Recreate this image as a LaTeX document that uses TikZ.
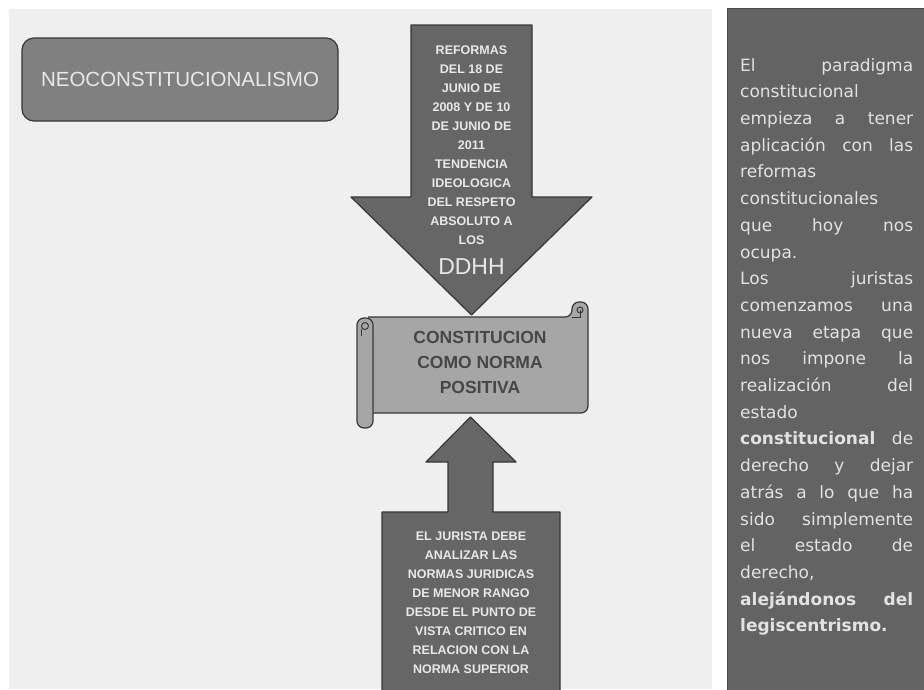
\documentclass[tikz,border=0pt]{standalone}
\usepackage{fontspec}
\setmainfont{Liberation Sans}
\newfontfamily\dejavu{DejaVu Sans}
\definecolor{bglight}{RGB}{239,239,239}
\definecolor{panel}{RGB}{99,99,99}
\definecolor{neofill}{RGB}{128,128,128}
\definecolor{shapefill}{RGB}{102,102,102}
\definecolor{scrollfill}{RGB}{166,166,166}
\definecolor{edge}{RGB}{55,55,55}
\definecolor{lighttext}{RGB}{232,232,232}
\definecolor{paneltext}{RGB}{226,226,226}
\tikzset{
  shapebox/.style={fill=shapefill,draw=edge,line width=1.2pt,line join=round},
  scrollbox/.style={fill=scrollfill,draw=edge,line width=1.2pt,rounded corners=7pt},
  arrowtext/.style={inner sep=0pt,align=center,text=lighttext,font=\bfseries\fontsize{12.5}{19}\selectfont},
}
\newcommand{\jline}[1]{\makebox[173pt][s]{#1}}

\begin{document}
\begin{tikzpicture}[x=1pt,y=-1pt]
    \useasboundingbox (0,0) rectangle (924,689);
    \clip (0,0) rectangle (924,689);
    \fill[white] (0,0) rectangle (924,689);
    \fill[bglight] (9,9) rectangle (712,689);
    \filldraw[fill=panel,draw=black!70] (727,8) rectangle (930,695);
    % title box
    \node[fill=neofill,draw=edge,line width=1.2pt,rounded corners=12pt,
          minimum width=316pt,minimum height=83pt,text=lighttext,
          font=\fontsize{20.5}{24}\selectfont] (neo) at (180,79.5) {NEOCONSTITUCIONALISMO};
    % arrow from the reforms down to the constitution
    \draw[shapebox] (411,25) -- (532,25) -- (532,197) -- (592,197) -- (471.5,315)
        -- (351,197) -- (411,197) -- cycle;
    \node[arrowtext,anchor=north] (reformas) at (471.5,45.5)
        {REFORMAS\\DEL 18 DE\\JUNIO DE\\2008 Y DE 10\\DE JUNIO DE\\2011\\TENDENCIA\\IDEOLOGICA\\DEL RESPETO\\ABSOLUTO A\\LOS};
    \node[inner sep=0pt,text=lighttext,font=\fontsize{23}{26}\selectfont,anchor=north] (ddhh) at (471.5,258.5) {DDHH};
    % scroll
    \draw[scrollbox] (368,317) -- (572,317) -- (572,302) -- (588,302) -- (588,413) -- (368,413);
    \draw[edge,line width=1pt] (572,317) -- (580,317) -- (580,310);
    \draw[edge,line width=1pt] (580,310) circle (3pt);
    \draw[scrollbox] (357,318) rectangle (373,428);
    \draw[edge,line width=1pt] (365,326) circle (3.5pt);
    \draw[edge,line width=1pt] (361,329) -- (361,336);
    \node[inner sep=0pt,align=center,text=black!72,anchor=north,
          font=\bfseries\fontsize{17.5}{25}\selectfont] (constitucion) at (480,331.5)
        {CONSTITUCION\\COMO NORMA\\POSITIVA};
    % callout pointing up to the scroll
    \draw[shapebox] (382,512) -- (448,512) -- (448,462) -- (426,462) -- (470.5,417)
        -- (516,462) -- (493,462) -- (493,512) -- (560,512) -- (560,700) -- (382,700) -- cycle;
    \node[arrowtext,anchor=north] (jurista) at (471,531.5)
        {EL JURISTA DEBE\\ANALIZAR LAS\\NORMAS JURIDICAS\\DE MENOR RANGO\\DESDE EL PUNTO DE\\VISTA CRITICO EN\\RELACION CON LA\\NORMA SUPERIOR};
    % side text
    \node[inner sep=0pt,anchor=north west,align=left,text=paneltext,
          font=\dejavu\fontsize{17}{26.7}\selectfont] (paradigma) at (740,58)
        {\jline{El paradigma}\\constitucional\\\jline{empieza a tener}\\\jline{aplicación con las}\\
         reformas\\constitucionales\\\jline{que hoy nos}\\ocupa.\\\jline{Los juristas}\\
         \jline{comenzamos una}\\\jline{nueva etapa que}\\\jline{nos impone la}\\
         \jline{realización del}\\estado\\\jline{\textbf{constitucional} de}\\
         \jline{derecho y dejar}\\\jline{atrás a lo que ha}\\\jline{sido simplemente}\\
         \jline{el estado de}\\derecho,\\\jline{\textbf{alejándonos} \textbf{del}}\\
         \textbf{legiscentrismo.}};
\end{tikzpicture}
\end{document}
